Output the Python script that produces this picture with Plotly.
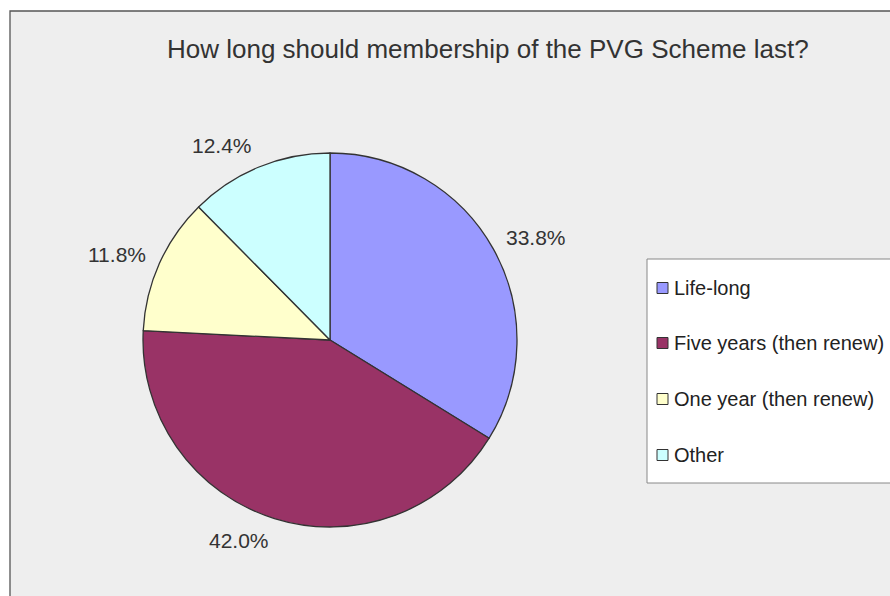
import math
import plotly.graph_objects as go

W, H = 890, 596

title = "How long should membership of the PVG Scheme last?"
labels = ["Life-long", "Five years (then renew)", "One year (then renew)", "Other"]
values = [33.8, 42.0, 11.8, 12.4]
colors = ["#9999FF", "#993366", "#FFFFCC", "#CCFFFF"]

FONT = "Liberation Sans, Arial, sans-serif"

# pie geometry (pixels)
CX, CY, R = 330, 340, 187
LABEL_GAP = 12
HALF_H = 11

def px(x):
    return x / W

def py(y):
    return 1 - y / H

fig = go.Figure()

fig.add_trace(go.Pie(
    labels=labels,
    values=values,
    sort=False,
    direction="clockwise",
    rotation=0,
    marker=dict(colors=colors, line=dict(color="#333333", width=1.3)),
    textinfo="none",
    showlegend=False,
    hoverinfo="label+percent",
    domain=dict(x=[px(CX - R), px(CX + R)], y=[py(CY + R), py(CY - R)]),
))

shapes = [
    # gray panel with dark top/left border
    dict(type="rect", xref="paper", yref="paper",
         x0=px(10), x1=px(W + 5), y0=py(H + 5), y1=py(11),
         fillcolor="#EEEEEE", line=dict(color="#555555", width=1.3), layer="below"),
    # legend box
    dict(type="rect", xref="paper", yref="paper",
         x0=px(647), x1=px(W + 5), y0=py(483), y1=py(259),
         fillcolor="#FFFFFF", line=dict(color="#888888", width=1), layer="below"),
]

annotations = [
    dict(text=title, xref="paper", yref="paper", x=px(488), y=py(49),
         xanchor="center", yanchor="middle", showarrow=False,
         font=dict(family=FONT, size=26, color="#333333")),
]

# percentage labels outside the slices, at each slice's mid-angle
total = sum(values)
cum = 0.0
for v in values:
    mid = (cum + v / 2) / total * 2 * math.pi  # clockwise from 12 o'clock
    cum += v
    ux, uy = math.sin(mid), -math.cos(mid)
    x = CX + ux * (R + LABEL_GAP)
    y = CY + uy * (R + LABEL_GAP) + HALF_H * uy
    annotations.append(dict(
        text=f"{v / total * 100:.1f}%", xref="paper", yref="paper",
        x=px(x), y=py(y), xanchor="left" if ux >= 0 else "right",
        yanchor="middle", showarrow=False,
        font=dict(family=FONT, size=21, color="#333333")))

item_y = [288, 343, 399, 455]
for lab, col, yy in zip(labels, colors, item_y):
    shapes.append(dict(type="rect", xref="paper", yref="paper",
                       x0=px(657), x1=px(668), y0=py(yy + 5.5), y1=py(yy - 5.5),
                       fillcolor=col, line=dict(color="#333333", width=1)))
    annotations.append(dict(text=lab, xref="paper", yref="paper", x=px(672), y=py(yy),
                            xanchor="left", yanchor="middle", showarrow=False,
                            font=dict(family=FONT, size=20, color="#222222")))

fig.update_layout(
    width=W, height=H,
    margin=dict(l=0, r=0, t=0, b=0),
    paper_bgcolor="#FFFFFF",
    plot_bgcolor="#FFFFFF",
    shapes=shapes,
    annotations=annotations,
)

fig.write_html(
    "out.html",
    config={"displayModeBar": False},
    post_script="document.body.style.margin='0';document.body.style.overflow='hidden';",
)
